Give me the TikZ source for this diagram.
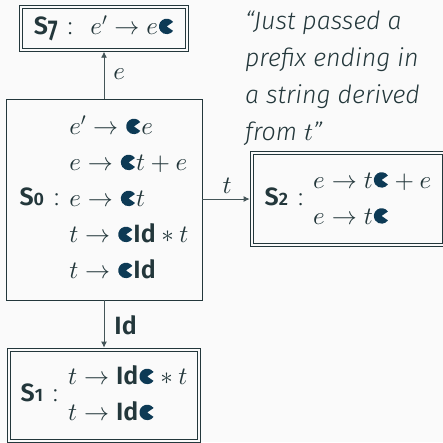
\documentclass[tikz,border=0pt]{standalone}
\DeclareFontFamily{OML}{cmm}{\skewchar\font'177}
\DeclareFontShape{OML}{cmm}{m}{it}{<->cmmi10}{}
\DeclareFontFamily{OMS}{cmsy}{\skewchar\font'60}
\DeclareFontShape{OMS}{cmsy}{m}{n}{<->cmsy10}{}
\DeclareFontFamily{OT1}{cmr}{\hyphenchar\font45}
\DeclareFontShape{OT1}{cmr}{m}{n}{<->cmr10}{}
\DeclareFontFamily{OMX}{cmex}{}
\DeclareFontShape{OMX}{cmex}{m}{n}{<->cmex10}{}
\usepackage{graphicx}
\usepackage{fontspec}
\setmainfont[BoldFont={Fira Sans SemiBold}, ItalicFont={Fira Sans Light Italic}]{Fira Sans Light}
\usetikzlibrary{arrows.meta}
\definecolor{bg}{HTML}{FAFAFA}
\definecolor{fg}{HTML}{23373B}
\definecolor{pacblue}{HTML}{0D3A55}
\newcommand{\pacglyph}{\hbox{\begin{pgfpicture}%
  \pgfpathrectanglecorners{\pgfpointorigin}{\pgfpoint{0.62em}{0.64em}}%
  \pgfusepath{discard}%
  \pgfpathmoveto{\pgfpoint{0.32em}{0.33em}}%
  \pgfpathlineto{\pgfpointadd{\pgfpoint{0.32em}{0.33em}}{\pgfpointpolar{35}{0.31em}}}%
  \pgfpatharc{35}{325}{0.31em}%
  \pgfpathclose
  \pgfsetfillcolor{pacblue}%
  \pgfusepath{fill}%
  \pgfsetbaseline{0pt}%
\end{pgfpicture}}}
\newcommand{\pac}{\mathord{\pacglyph}}
\newcommand{\sid}{\mbox{\bfseries Id}}
\newcommand{\colsep}[1]{\hspace{0.4em}:\hspace{#1}}
\newcommand{\odig}[1]{{\fontsize{18}{18}\selectfont #1}}
\newcommand{\oseven}{\raisebox{-6pt}{\scalebox{0.85}[1.15]{7}}}
\tikzset{
  allfont/.style={font=\fontsize{25}{36}\selectfont, text=fg},
  dstate/.style={draw=fg, line width=0.8pt, double=bg, double distance=2.2pt, inner sep=0pt},
  pstate/.style={draw=fg, line width=0.9pt, inner sep=0pt},
  frame/.style={draw=fg, line width=0.8pt},
  conn/.style={draw=fg!85, line width=0.9pt, -{Latex[length=6pt,width=6pt]}, shorten >=2pt},
  lbl/.style={inner sep=0pt, allfont},
}
\begin{document}
\begin{tikzpicture}[x=1pt,y=-1pt]
\fill[bg, use as bounding box] (0,0) rectangle (443,442);
\clip (0,0) rectangle (443,442);
% state frames
\node[inner sep=0pt, minimum width=165pt, minimum height=42pt] (s7) at (104,28.5) {};
\node[pstate, minimum width=196pt, minimum height=201pt] (s0) at (104,199.5) {};
\node[dstate, minimum width=192pt, minimum height=92pt] (s2) at (348,199) {};
\node[dstate, minimum width=190pt, minimum height=91pt] (s1) at (104,395.5) {};
% state contents
\node[lbl] (s0t) at (s0)
  {\textbf{S\odig{0}}\colsep{0.4em}$\begin{array}{@{}l@{}}
   e'\to\pac e\\
   e\to\pac t+e\\
   e\to\pac t\\
   t\to\pac\sid*t\\
   t\to\pac\sid
  \end{array}$};
\node[lbl] (s2t) at (s2)
  {\textbf{S\odig{2}}\colsep{0.4em}$\begin{array}{@{}l@{}}
   e\to t\pac+e\\
   e\to t\pac
  \end{array}$};
\node[lbl] (s1t) at (s1)
  {\textbf{S\odig{1}}\colsep{0.4em}$\begin{array}{@{}l@{}}
   t\to\sid\pac*t\\
   t\to\sid\pac
  \end{array}$};
\node[lbl, anchor=north west, align=left, font=\fontsize{25}{37}\selectfont\itshape] (q) at (245,11)
  {“Just passed a\\prefix ending in\\a string derived\\from $t$”};
\draw[conn] (s0.north) -- node[lbl, anchor=west, xshift=9pt] (le) {$e$} (s7.south);
\draw[conn] (s0.east |- s2.west) -- node[lbl, anchor=south, yshift=5pt] (lt) {$t$} (s2.west);
\draw[conn] (s0.south) -- node[lbl, anchor=west, xshift=10pt] (lid) {\textbf{Id}} (s1.north);
% S7 frame and text, drawn last
\draw[frame] ([shift={(-1.5pt,-1.5pt)}]s7.south west) rectangle ([shift={(1.5pt,1.5pt)}]s7.north east);
\draw[frame] ([shift={(1.5pt,1.5pt)}]s7.south west) rectangle ([shift={(-1.5pt,-1.5pt)}]s7.north east);
\node[lbl] (s7t) at (s7) {\textbf{S\oseven}\colsep{0.7em}$e'\to e\pac$};
\end{tikzpicture}
\end{document}
